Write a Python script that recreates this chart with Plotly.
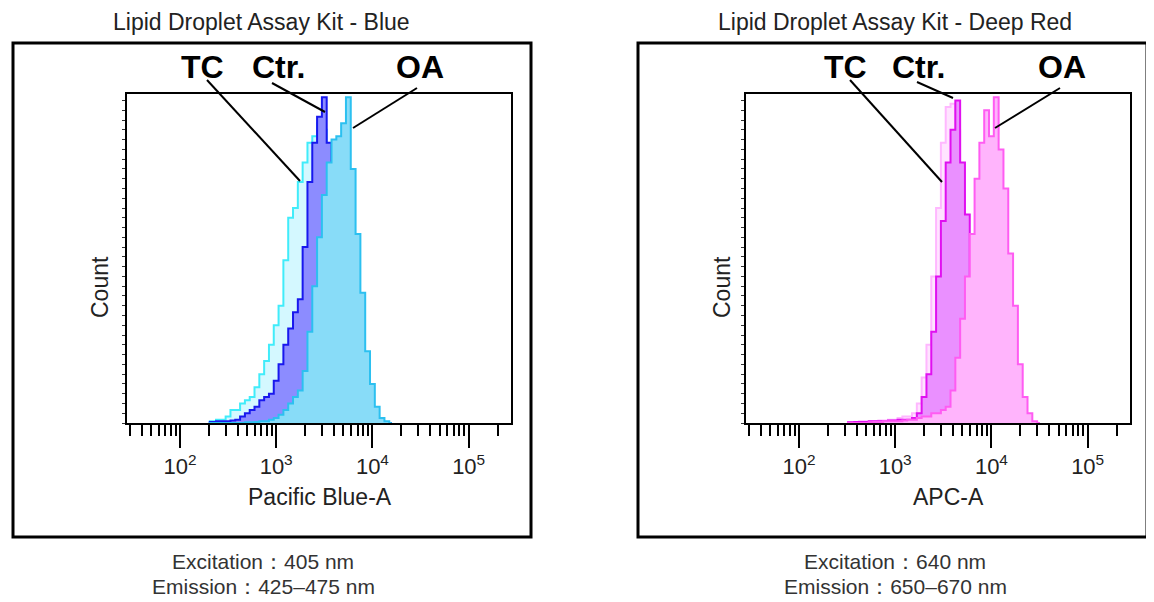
import plotly.graph_objects as go

# reference picture size; the page body adds an 8px margin, so the figure
# itself is drawn 8px smaller and every position is shifted by that margin
W, H = 1154, 602
PAD = 8
FW, FH = W - PAD, H - PAD

# histogram bin centres, log10 of fluorescence intensity
blue_bins = [2.30, 2.35, 2.40, 2.45, 2.50, 2.55, 2.60, 2.65, 2.70, 2.75,
             2.80, 2.85, 2.90, 2.95, 3.00, 3.05, 3.10, 3.15, 3.20, 3.25,
             3.30, 3.35, 3.40, 3.45, 3.50, 3.55, 3.60, 3.65, 3.70, 3.75,
             3.80, 3.85, 3.90, 3.95, 4.00, 4.05, 4.10, 4.15, 4.20]
red_bins = [2.50, 2.55, 2.60, 2.65, 2.70, 2.75, 2.80, 2.85, 2.90, 2.95,
            3.00, 3.05, 3.10, 3.15, 3.20, 3.25, 3.30, 3.35, 3.40, 3.45,
            3.50, 3.55, 3.60, 3.65, 3.70, 3.75, 3.80, 3.85, 3.90, 3.95,
            4.00, 4.05, 4.10, 4.15, 4.20, 4.25, 4.30, 4.35, 4.40, 4.45, 4.50]

# counts (% of max) - Pacific Blue channel
blue_tc = [0.5, 0.5, 1, 1, 2, 4, 4, 6, 7, 8,
           11, 15, 19, 24, 30, 36, 50, 63, 66, 74,
           80, 86, 88, 92, 90, 84, 72, 58, 42, 28,
           16, 8, 3, 1, 0, 0, 0, 0, 0]
blue_ctr = [0.3, 0.3, 0.5, 0.5, 0.5, 0.8, 1, 2, 3, 4,
            5, 7, 8, 9, 13, 18, 24, 29, 34, 38,
            54, 74, 86, 94, 100, 86, 70, 52, 34, 20,
            10, 4, 1, 0, 0, 0, 0, 0, 0]
blue_oa = [0, 0, 0, 0, 0, 0, 0, 0, 0.2, 0.2,
           0.3, 0.5, 0.5, 1, 1.5, 2.5, 4, 6, 8, 10,
           16, 28, 42, 57, 70, 80, 87, 88, 92, 100,
           78, 58, 40, 22, 12, 5, 1.5, 0.5, 0]

# counts (% of max) - APC channel
red_tc = [0.3, 0.3, 0.3, 0.5, 0.5, 0.5, 0.5, 0.8, 0.8, 1,
          1, 1.5, 2, 2, 3, 6, 14, 24, 45, 66,
          86, 97, 98, 90, 70, 48, 28, 14, 6, 2,
          0.5, 0, 0, 0, 0, 0, 0, 0, 0, 0, 0]
red_ctr = [0.2, 0.2, 0.3, 0.3, 0.3, 0.5, 0.5, 0.5, 0.5, 0.8,
           0.8, 1, 1, 1, 1.5, 3, 8, 15, 28, 45,
           62, 80, 90, 99, 80, 64, 42, 25, 12, 5,
           2, 0.5, 0, 0, 0, 0, 0, 0, 0, 0, 0]
red_oa = [0, 0, 0, 0, 0, 0.2, 0.3, 0.3, 0.5, 0.5,
          0.5, 0.5, 0.8, 1, 1, 1.5, 2, 2, 3, 3,
          4, 5, 10, 20, 32, 45, 58, 75, 86, 96,
          88, 100, 84, 72, 52, 36, 18, 8, 3, 0.5, 0]

major_ticks = [100, 1000, 10000, 100000]
major_text = ["10<sup>2</sup>", "10<sup>3</sup>", "10<sup>4</sup>", "10<sup>5</sup>"]
minor_ticks = [m * 10 ** e for e in range(1, 6) for m in range(2, 10)]

FONT = "Arial, Liberation Sans, sans-serif"


def px(x):
    return (x - PAD) / FW


def py(y):
    return 1 - (y - PAD) / FH


fig = go.Figure()


def add_hist(bins, counts, line, fill, xa, ya, name):
    fig.add_trace(go.Scatter(
        x=[10 ** b for b in bins], y=counts, name=name,
        mode="lines", line=dict(color=line, width=2, shape="hvh"),
        fill="tozeroy", fillcolor=fill, xaxis=xa, yaxis=ya,
    ))


add_hist(blue_bins, blue_tc, "#40ecfa", "#d4f8ff", "x", "y", "TC")
add_hist(blue_bins, blue_ctr, "#1818ee", "#8c8cff", "x", "y", "Ctr.")
add_hist(blue_bins, blue_oa, "#2cc0f0", "#88dcf8", "x", "y", "OA")
add_hist(red_bins, red_tc, "#ffb8ff", "#ffe4ff", "x2", "y2", "TC")
add_hist(red_bins, red_ctr, "#e010f0", "#ea90ff", "x2", "y2", "Ctr.")
add_hist(red_bins, red_oa, "#ff5cf2", "#ffb4fc", "x2", "y2", "OA")

xcommon = dict(
    type="log", range=[1.45, 5.44],
    tickmode="array", tickvals=major_ticks, ticktext=major_text,
    ticks="outside", ticklen=23, tickwidth=2, tickcolor="black",
    showline=True, linecolor="black", linewidth=2, mirror=True,
    showgrid=False, zeroline=False,
    tickfont=dict(family=FONT, size=22, color="#222"),
    minor=dict(tickvals=minor_ticks, ticks="outside", ticklen=11,
               tickwidth=2, tickcolor="black", showgrid=False),
)
ycommon = dict(
    range=[0, 101], domain=[py(423), py(94)],
    ticks="outside", ticklen=3, tickwidth=1, tickcolor="#333",
    tickmode="linear", tick0=0, dtick=3, showticklabels=False,
    showline=True, linecolor="black", linewidth=2, mirror=True,
    showgrid=False, zeroline=False,
)

fig.update_layout(
    width=FW, height=FH,
    margin=dict(l=0, r=0, t=0, b=0),
    paper_bgcolor="white", plot_bgcolor="white",
    showlegend=False,
    xaxis=dict(xcommon, domain=[px(127), px(511)], anchor="y"),
    yaxis=dict(ycommon, anchor="x"),
    xaxis2=dict(xcommon, domain=[px(746), px(1130)], anchor="y2"),
    yaxis2=dict(ycommon, anchor="x2"),
)

# outer frames around each panel
for x0, x1 in [(13, 531), (638, 1147)]:
    fig.add_shape(type="rect", xref="paper", yref="paper",
                  x0=px(x0), x1=px(x1), y0=py(537), y1=py(43),
                  line=dict(color="black", width=3))

# leader lines from labels to curves
leaders = [
    (207, 80, 300, 181), (272, 83, 325, 112), (417, 88, 353, 128),
    (850, 80, 942, 182), (917, 82, 953, 98), (1060, 88, 995, 128),
]
for x0, y0, x1, y1 in leaders:
    fig.add_shape(type="line", xref="paper", yref="paper",
                  x0=px(x0), y0=py(y0), x1=px(x1), y1=py(y1),
                  line=dict(color="black", width=2))


def text(x, y, s, size=23, bold=False, angle=0, color="#222"):
    fig.add_annotation(
        x=px(x), y=py(y), xref="paper", yref="paper", text=s,
        showarrow=False, textangle=angle, xanchor="center", yanchor="middle",
        borderpad=0, borderwidth=0,
        font=dict(family=FONT, size=size, color=color,
                  weight="bold" if bold else "normal"),
    )


# panel titles
text(261, 22, "Lipid Droplet Assay Kit - Blue")
text(895, 22, "Lipid Droplet Assay Kit - Deep Red")

# curve labels
for x, s in [(202, "TC"), (278, "Ctr."), (420, "OA"),
             (845, "TC"), (918, "Ctr."), (1062, "OA")]:
    text(x, 67, s, size=32, bold=True, color="black")

# axis titles
text(100, 287, "Count", angle=-90)
text(722, 287, "Count", angle=-90)
text(320, 497, "Pacific Blue-A")
text(948, 497, "APC-A")

# excitation / emission notes
text(263, 561, "Excitation：405 nm", size=21, color="#333")
text(263, 586, "Emission：425–475 nm", size=21, color="#333")
text(895, 561, "Excitation：640 nm", size=21, color="#333")
text(895, 586, "Emission：650–670 nm", size=21, color="#333")

fig.write_html("out.html")
